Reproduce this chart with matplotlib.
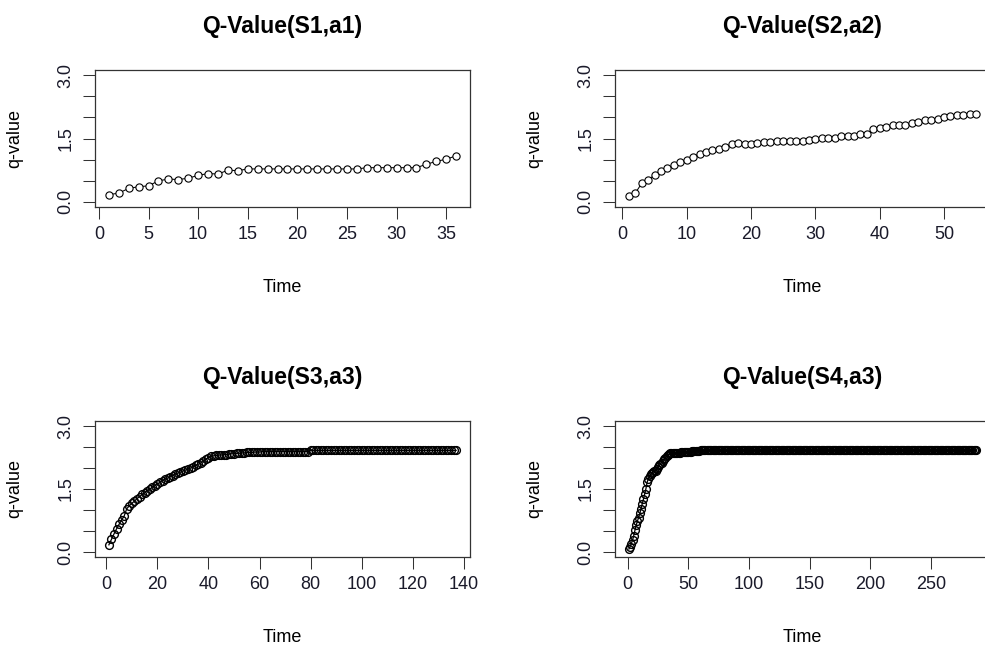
import matplotlib
matplotlib.use("Agg")
import matplotlib.pyplot as plt
import numpy as np

plt.rcParams["font.family"] = ["Liberation Sans", "DejaVu Sans"]

# ---- data ----
q_s1a1 = [0.17, 0.21, 0.32, 0.36, 0.38, 0.50, 0.54, 0.53, 0.56, 0.63,
          0.67, 0.66, 0.75, 0.74, 0.78, 0.78, 0.78, 0.78, 0.78, 0.78,
          0.78, 0.78, 0.78, 0.78, 0.78, 0.78, 0.81, 0.81, 0.81, 0.81,
          0.81, 0.81, 0.89, 0.96, 1.01, 1.09]

q_s2a2 = [0.15, 0.21, 0.44, 0.53, 0.63, 0.73, 0.81, 0.87, 0.94, 1.00,
          1.07, 1.14, 1.19, 1.22, 1.26, 1.30, 1.37, 1.40, 1.38, 1.38,
          1.40, 1.41, 1.41, 1.43, 1.44, 1.44, 1.44, 1.44, 1.47, 1.48,
          1.52, 1.52, 1.52, 1.56, 1.56, 1.56, 1.60, 1.61, 1.72, 1.75,
          1.78, 1.81, 1.82, 1.83, 1.87, 1.90, 1.93, 1.94, 1.96, 2.01,
          2.03, 2.05, 2.05, 2.07, 2.07]

q_s3a3 = ([0.17, 0.30, 0.43, 0.55, 0.66, 0.76, 0.86, 1.03, 1.10, 1.16,
           1.21, 1.27, 1.32, 1.37, 1.41, 1.46, 1.50, 1.54, 1.58, 1.62,
           1.66, 1.70, 1.73, 1.76, 1.79, 1.82, 1.85, 1.88, 1.90, 1.93,
           1.95, 1.97, 2.00, 2.03, 2.06, 2.09, 2.12, 2.16, 2.21, 2.25,
           2.28, 2.29, 2.30, 2.31, 2.31, 2.32, 2.32, 2.33, 2.34, 2.34,
           2.35, 2.35, 2.36, 2.36, 2.37, 2.37, 2.37, 2.38, 2.38, 2.38,
           2.39]
          + [2.39] * 18
          + [2.42] * 58)

q_s4a3 = ([0.07, 0.13, 0.20, 0.28, 0.39, 0.52, 0.64, 0.73, 0.82, 0.92,
           1.03, 1.14, 1.26, 1.38, 1.50, 1.66, 1.74, 1.80, 1.85, 1.88,
           1.90, 1.92, 1.94, 1.98, 2.02, 2.06, 2.09, 2.13, 2.17, 2.21,
           2.25, 2.28, 2.31, 2.33, 2.35, 2.35, 2.36, 2.36, 2.36, 2.36,
           2.36, 2.36, 2.36, 2.37, 2.37, 2.37, 2.38, 2.38, 2.38, 2.38,
           2.39, 2.39, 2.40, 2.40, 2.40, 2.40, 2.41, 2.41, 2.41]
          + [2.42] * 228)

titles = ["Q-Value(S1,a1)", "Q-Value(S2,a2)", "Q-Value(S3,a3)", "Q-Value(S4,a3)"]
xtick_steps = [5, 10, 20, 50]
xtick_max = [35, 50, 140, 250]
yticks = [0.0, 0.5, 1.0, 1.5, 2.0, 2.5, 3.0]
ytick_labels = ["0.0", "", "", "1.5", "", "", "3.0"]

W, H = 985, 652
fig = plt.figure(figsize=(W / 100, H / 100), dpi=100)

# panel boxes in pixels: left, top, right, bottom (right panels run past the edge)
boxes = [(95, 70, 470, 207), (615, 70, 990, 207),
         (95, 421, 470, 557), (615, 421, 990, 557)]
series = [q_s1a1, q_s2a2, q_s3a3, q_s4a3]

for i, (vals, box) in enumerate(zip(series, boxes)):
    l, t, r, b = box
    ax = fig.add_axes([l / W, 1 - b / H, (r - l) / W, (b - t) / H])
    n = len(vals)
    x = np.arange(1, n + 1)
    dense = n > 60
    ax.plot(x, vals, color="black", linewidth=0.9 if dense else 0.75,
            marker="o", markersize=5.6 if dense else 5.2,
            markerfacecolor="none" if dense else "white",
            markeredgecolor="black",
            markeredgewidth=1.0 if dense else 0.8)
    pad_x = 0.04 * (n - 1)
    ax.set_xlim(1 - pad_x, n + pad_x)
    ax.set_ylim(-0.12, 3.12)
    ax.set_xticks(np.arange(0, xtick_max[i] + 1, xtick_steps[i]))
    ax.set_yticks(yticks)
    ax.set_yticklabels(ytick_labels, rotation=90, va="center")
    ax.tick_params(direction="out", length=8.6, width=0.75, labelsize=13,
                   color="#333333", labelcolor="#1a1a2a")
    ax.tick_params(axis="x", pad=5)
    ax.tick_params(axis="y", pad=6)
    for sp in ax.spines.values():
        sp.set_linewidth(0.9)
        sp.set_color("#333333")
    ax.set_title(titles[i], fontsize=16.5, fontweight="bold", pad=26.6)
    ax.annotate("Time", xy=(0.5, 0), xycoords="axes fraction",
                xytext=(0, -58.3), textcoords="offset points",
                ha="center", va="center", fontsize=13)
    ax.annotate("q-value", xy=(0, 0.5), xycoords="axes fraction",
                xytext=(-57.6, 0), textcoords="offset points",
                ha="center", va="center", rotation=90, fontsize=13)

fig.savefig("out.png", dpi=100)
